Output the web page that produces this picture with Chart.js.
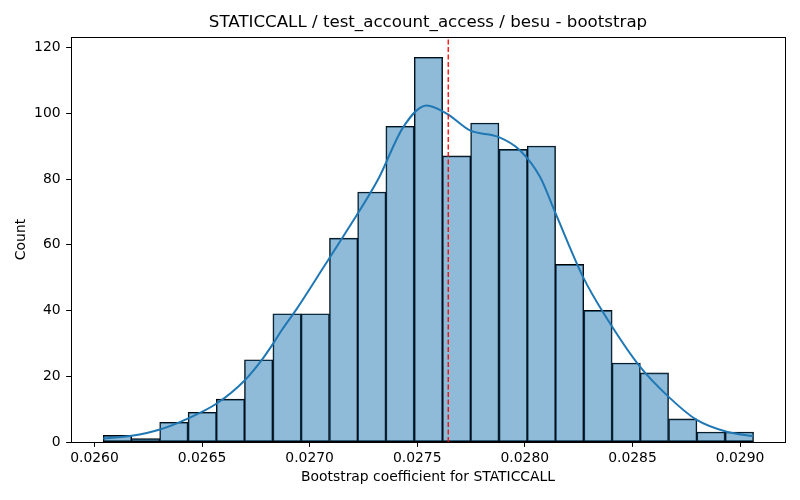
<!DOCTYPE html>
<html>
<head>
<meta charset="utf-8">
<script src="https://cdn.jsdelivr.net/npm/chart.js@4"></script>
<style>
html,body{margin:0;padding:0;background:#fff;}
#wrap{width:800px;height:500px;}
</style>
</head>
<body>
<div id="wrap"><canvas id="c" width="800" height="500"></canvas></div>
<script>
// ---- data ----
const binCenters = [0.026107,0.026238,0.026369,0.026501,0.026632,0.026763,0.026895,0.027026,
  0.027158,0.027289,0.027420,0.027552,0.027683,0.027814,0.027946,0.028077,0.028208,0.028340,
  0.028471,0.028602,0.028734,0.028865,0.028997];
const binCounts = [2,1,6,9,13,25,39,39,62,76,96,117,87,97,89,90,54,40,24,21,7,3,3];
const kdeX = [0.026041,0.026173,0.026304,0.026436,0.026568,0.026699,0.026777,0.026831,0.026870,
  0.026940,0.027063,0.027180,0.027319,0.027435,0.027544,0.027637,0.027745,0.027877,0.027978,
  0.028071,0.028140,0.028272,0.028365,0.028535,0.028667,0.028799,0.028938,0.029062];
const kdeY = [1.1,1.9,3.8,7.2,11.7,18.8,24.9,30,34,40.5,53,65,80,95.8,102.4,99.9,94.8,92.8,88.7,
  80.6,70,50,39.3,22.9,13.8,6.7,3.1,1.8];
const refValue = 0.027644;
const xTicks = [0.0260,0.0265,0.0270,0.0275,0.0280,0.0285,0.0290];
const yTicks = [0,20,40,60,80,100,120];
const xMin = 0.025891, xMax = 0.029209, yMax = 123.2;
const titleText = 'STATICCALL / test_account_access / besu - bootstrap';
const xLabel = 'Bootstrap coefficient for STATICCALL';
const yLabel = 'Count';

const FONT = 'DejaVu Sans';

const boxPlugin = {
  id: 'box',
  afterDatasetsDraw(chart) {
    const a = chart.chartArea, ctx = chart.ctx;
    ctx.save();
    ctx.strokeStyle = '#000';
    ctx.lineWidth = 1;
    ctx.strokeRect(Math.round(a.left) + 0.5, Math.round(a.top) + 0.5,
      Math.round(a.right - a.left), Math.round(a.bottom - a.top));
    ctx.restore();
  }
};

new Chart(document.getElementById('c'), {
  data: {
    datasets: [
      {
        type: 'line',
        data: [{x: refValue, y: 0}, {x: refValue, y: yMax}],
        borderColor: '#ff0000',
        borderWidth: 1.3,
        borderDash: [5, 2.5],
        pointRadius: 0,
        order: 0
      },
      {
        type: 'line',
        data: kdeX.map((x, i) => ({x, y: kdeY[i]})),
        borderColor: '#1f77b4',
        borderWidth: 2,
        pointRadius: 0,
        cubicInterpolationMode: 'monotone',
        order: 1
      },
      {
        type: 'bar',
        data: binCenters.map((x, i) => ({x, y: binCounts[i]})),
        backgroundColor: 'rgba(31,119,180,0.5)',
        borderColor: '#000',
        borderWidth: 0.8,
        inflateAmount: 0.4,
        borderSkipped: false,
        barPercentage: 1,
        categoryPercentage: 1,
        order: 2
      }
    ]
  },
  options: {
    responsive: false,
    animation: false,
    devicePixelRatio: 1,
    layout: {padding: {left: 0, right: 15, top: 0, bottom: 0}},
    plugins: {
      legend: {display: false},
      tooltip: {enabled: false},
      title: {display: false}
    },
    scales: {
      x: {
        type: 'linear',
        min: xMin, max: xMax,
        offset: false,
        afterBuildTicks: (s) => { s.ticks = xTicks.map(v => ({value: v})); },
        afterFit: (s) => { s.height = 58; },
        grid: {drawOnChartArea: false, drawTicks: true, tickLength: 4.9, color: '#000', offset: false},
        border: {display: false},
        ticks: {
          color: '#000', padding: 3, maxRotation: 0, autoSkip: false,
          font: {family: FONT, size: 13.9},
          callback: (v) => Number(v).toFixed(4)
        },
        title: {
          display: true, text: xLabel, color: '#000',
          font: {family: FONT, size: 13.9, lineHeight: 1.2},
          padding: {top: 0, bottom: 14.7}
        }
      },
      xTitle: {
        type: 'linear',
        position: 'top',
        min: xMin, max: xMax,
        offset: false,
        afterBuildTicks: (s) => { s.ticks = []; },
        afterFit: (s) => { s.height = 37; },
        grid: {display: false, offset: false},
        border: {display: false},
        ticks: {display: false},
        title: {
          display: true, text: titleText, color: '#000',
          font: {family: FONT, size: 16.67, lineHeight: 1.2},
          padding: {top: 12.5, bottom: 0}
        }
      },
      y: {
        type: 'linear',
        min: 0, max: yMax,
        afterBuildTicks: (s) => { s.ticks = yTicks.map(v => ({value: v})); },
        afterFit: (s) => { s.width = 71; },
        grid: {drawOnChartArea: false, drawTicks: true, tickLength: 4.9, color: '#000'},
        border: {display: false},
        ticks: {
          color: '#000', padding: 5.5, autoSkip: false,
          font: {family: FONT, size: 13.9},
          callback: (v) => String(v)
        },
        title: {
          display: true, text: yLabel, color: '#000',
          font: {family: FONT, size: 13.9, lineHeight: 1.2},
          padding: {top: 12.7, bottom: 0}
        }
      }
    }
  },
  plugins: [boxPlugin]
});
</script>
</body>
</html>
